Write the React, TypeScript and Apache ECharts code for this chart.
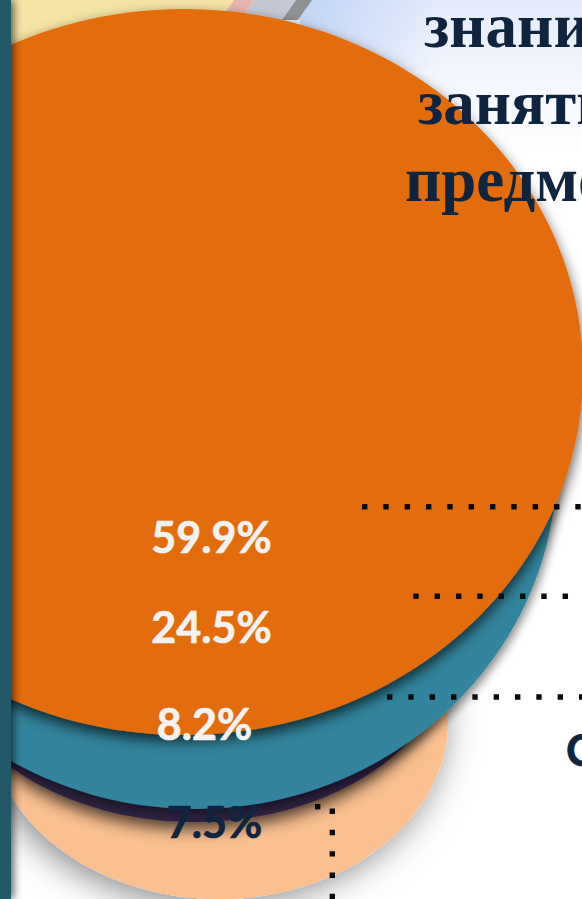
import React, { useEffect, useRef } from "react";
import * as echarts from "echarts";

// Data
const layerNames = ["Оранжевый", "Бирюзовый", "Фиолетовый", "Персиковый"];
const shares = [59.9, 24.5, 8.2, 7.5];
const titleLines = ["знани", "заняти", "предме"];
const cutLetter = "С";

// Geometry & styles (axis units = picture pixels)
const W = 582;
const H = 899;
const ellipses = [
  { cx: 184, cy: 372, rx: 399, ry: 363, fill: "#E36C0A", blur: 14, off: 6, offX: 0, shadow: "rgba(0,0,0,0.7)" },
  { cx: 195, cy: 462, rx: 362, ry: 347, fill: "#31859C", blur: 10, off: 5, offX: 2, shadow: "rgba(0,0,0,0.45)" },
  { cx: 195, cy: 632, rx: 262, ry: 190, fill: "#2F2142", blur: 16, off: 7, offX: 0, shadow: "rgba(0,0,0,0.7)" },
  { cx: 219, cy: 721, rx: 229, ry: 178, fill: "#FAC090", blur: 36, off: 4, offX: -6, shadow: "rgba(0,0,0,0.5)" },
];
const labelPos = [
  { x: 211.5, y: 536, fill: "#F2F2F2" },
  { x: 211.5, y: 626, fill: "#F2F2F2" },
  { x: 204.5, y: 723, fill: "#F2F2F2" },
  { x: 214.5, y: 821, fill: "#0F243E" },
];
const drawOrder = [3, 2, 1, 0];

const TEXT_DARK = "#0F243E";
const DOT = 5.4;
const dotted = (x1: number, y1: number, x2: number, y2: number) => ({
  type: "line",
  z: 10,
  shape: { x1, y1, x2, y2 },
  style: { stroke: "#0A0A0A", lineWidth: DOT, lineDash: [DOT, 21.33 - DOT], lineCap: "butt" },
});

export default function App() {
  const ref = useRef<HTMLDivElement>(null);
  useEffect(() => {
    if (!ref.current) return;
    const chart = echarts.init(ref.current, null, { renderer: "svg" });
    const option: any = {
      animation: false,
      backgroundColor: "#FFFFFF",
      grid: { left: 0, right: 0, top: 0, bottom: 0 },
      xAxis: { type: "value", min: 0, max: W, show: false },
      yAxis: { type: "value", min: 0, max: H, inverse: true, show: false },
      series: [
        {
          type: "custom",
          name: "layers",
          z: 2,
          silent: true,
          encode: { x: 0, y: 1 },
          data: drawOrder.map((i) => ({ name: layerNames[i], value: [ellipses[i].cx, ellipses[i].cy, shares[i], i] })),
          renderItem: (_p: any, api: any) => {
            const i = api.value(3);
            const e = ellipses[i];
            const c = api.coord([e.cx, e.cy]);
            const s = api.size([e.rx, e.ry]);
            return {
              type: "ellipse",
              shape: { cx: c[0], cy: c[1], rx: s[0], ry: s[1] },
              style: {
                fill: e.fill,
                shadowBlur: e.blur,
                shadowOffsetY: e.off,
                shadowOffsetX: e.offX,
                shadowColor: e.shadow,
              },
            };
          },
        },
        {
          type: "custom",
          name: "labels",
          z: 5,
          silent: true,
          encode: { x: 0, y: 1 },
          data: shares.map((v, i) => [labelPos[i].x, labelPos[i].y, v, i]),
          renderItem: (_p: any, api: any) => {
            const i = api.value(3);
            const c = api.coord([api.value(0), api.value(1)]);
            return {
              type: "text",
              style: {
                text: shares[i].toFixed(1) + "%",
                x: c[0],
                y: c[1],
                align: "center",
                verticalAlign: "middle",
                fill: labelPos[i].fill,
                stroke: labelPos[i].fill,
                lineWidth: 0.7,
                font: "bold 43px Lato",
              },
            };
          },
        },
      ],
      graphic: {
        elements: [
          {
            type: "rect",
            z: 0,
            shape: { x: 0, y: 0, width: W, height: 150 },
            style: {
              fill: new echarts.graphic.LinearGradient(0, 0, 0, 1, [
                { offset: 0, color: "#E3EBF9" },
                { offset: 0.5, color: "#F3F6FD" },
                { offset: 1, color: "#FFFFFF" },
              ]),
            },
          },
          {
            type: "rect",
            z: 0,
            shape: { x: 300, y: 0, width: 140, height: 70 },
            style: {
              fill: new echarts.graphic.LinearGradient(0, 0, 1, 0, [
                { offset: 0, color: "rgba(190,210,245,0.9)" },
                { offset: 1, color: "rgba(190,210,245,0)" },
              ]),
            },
          },
          {
            type: "polygon",
            z: 0,
            shape: { points: [[0, 0], [234, 0], [220, 20], [200, 60], [0, 60]] },
            style: { fill: "#F4E4A6" },
          },
          {
            type: "polygon",
            z: 0,
            shape: { points: [[234, 0], [254, 0], [240, 20], [220, 20]] },
            style: { fill: "#E8B5B0" },
          },
          {
            type: "polygon",
            z: 0,
            shape: { points: [[254, 0], [296, 0], [282, 20], [240, 20]] },
            style: { fill: "#C6C8D4" },
          },
          {
            type: "polygon",
            z: 0,
            shape: { points: [[296, 0], [312, 0], [298, 20], [282, 20]] },
            style: { fill: "#8F9094" },
          },
          {
            type: "rect",
            z: 10,
            shape: { x: 0, y: 0, width: 11, height: H },
            style: { fill: "#215968", shadowBlur: 10, shadowColor: "rgba(0,0,0,0.7)", shadowOffsetX: 2 },
          },
          dotted(362, 506.7, W, 506.7),
          dotted(413.3, 596.3, 570, 596.3),
          dotted(387, 697, W, 697),
          dotted(315, 806.7, 320.4, 806.7),
          dotted(332.3, 808.5, 332.3, H),
          ...titleLines.map((t, i) => ({
            type: "text",
            z: 10,
            style: {
              text: t,
              x: [424, 418, 405][i],
              y: [26, 103, 180][i],
              align: "left",
              verticalAlign: "middle",
              fill: TEXT_DARK,
              font: "bold 63px 'Liberation Serif'",
            },
          })),
          {
            type: "text",
            z: 10,
            style: {
              text: cutLetter,
              x: 566,
              y: 749,
              align: "left",
              verticalAlign: "middle",
              fill: TEXT_DARK,
              stroke: TEXT_DARK,
              lineWidth: 0.7,
              font: "bold 44px Lato",
            },
          },
        ],
      },
    };
    chart.setOption(option);
    return () => chart.dispose();
  }, []);
  return <div ref={ref} style={{ position: "absolute", left: 0, top: 0, width: W, height: H }} />;
}
